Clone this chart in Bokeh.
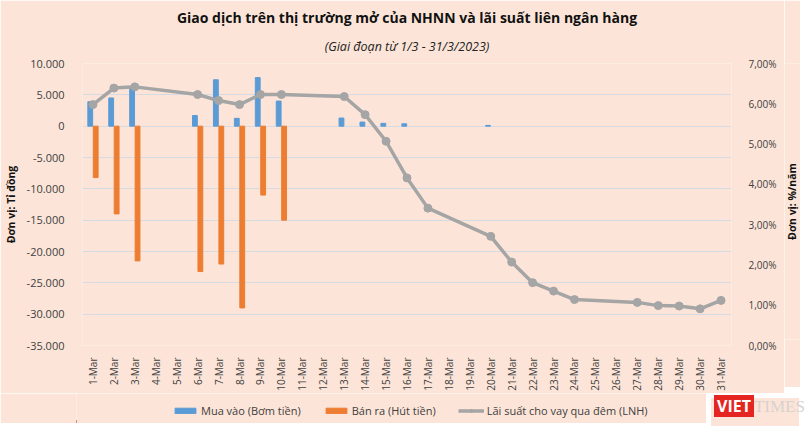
from bokeh.plotting import figure
from bokeh.layouts import column, row
from bokeh.models import (ColumnDataSource, LinearAxis, Range1d, FixedTicker,
                          CustomJSTickFormatter, Legend, LegendItem, Title, Div, Label)
from bokeh.transform import dodge
from bokeh.embed import file_html
from bokeh.resources import INLINE
from math import pi

# --- data ---
days = ["%d-Mar" % d for d in range(1, 32)]

buy_days = ["1-Mar", "2-Mar", "3-Mar", "6-Mar", "7-Mar", "8-Mar", "9-Mar", "10-Mar",
            "13-Mar", "14-Mar", "15-Mar", "16-Mar", "20-Mar"]
buy_vals = [3900, 4500, 6200, 1700, 7400, 1250, 7750, 4000, 1300, 650, 450, 380, 120]

sell_days = ["1-Mar", "2-Mar", "3-Mar", "6-Mar", "7-Mar", "8-Mar", "9-Mar", "10-Mar"]
sell_vals = [-8200, -14000, -21500, -23200, -22000, -29000, -11000, -15000]

rate_days = ["1-Mar", "2-Mar", "3-Mar", "6-Mar", "7-Mar", "8-Mar", "9-Mar", "10-Mar",
             "13-Mar", "14-Mar", "15-Mar", "16-Mar", "17-Mar", "20-Mar", "21-Mar",
             "22-Mar", "23-Mar", "24-Mar", "27-Mar", "28-Mar", "29-Mar", "30-Mar", "31-Mar"]
rate_vals = [5.98, 6.39, 6.42, 6.23, 6.08, 5.98, 6.23, 6.23, 6.18, 5.73, 5.07, 4.16,
             3.41, 2.71, 2.07, 1.56, 1.35, 1.14, 1.07, 0.99, 0.98, 0.91, 1.12]

left_ticks = [-35000, -30000, -25000, -20000, -15000, -10000, -5000, 0, 5000, 10000]
right_ticks = [0, 1, 2, 3, 4, 5, 6, 7]

BG = "#FCE5D8"
FONT = "Open Sans"
TXT = "#404040"
BLUE, ORANGE, GREY = "#5B9BD5", "#ED7D31", "#A5A5A5"

p = figure(x_range=days, y_range=Range1d(-35000, 10000),
           frame_width=649, frame_height=282,
           output_backend="svg", toolbar_location=None,
           title="Giao dịch trên thị trường mở của NHNN và lãi suất liên ngân hàng",
           min_border_left=76, min_border_right=53, min_border_top=63,
           min_border_bottom=42)
p.extra_y_ranges = {"rate": Range1d(0, 7)}

p.background_fill_color = BG
p.border_fill_color = BG
p.outline_line_color = None

p.title.align = "center"
p.title.text_font = FONT
p.title.text_font_style = "bold"
p.title.text_font_size = "14px"
p.title.text_color = "#111111"
p.title.standoff = 0
if "padding" in p.title.properties():
    p.title.padding = 1
p.add_layout(Title(text="(Giai đoạn từ 1/3 - 31/3/2023)",
                   align="center", text_font=FONT, text_font_style="italic",
                   text_font_size="12.5px", text_color="#222222",
                   standoff=17), "above")

buy_src = ColumnDataSource(dict(d=buy_days, v=buy_vals))
sell_src = ColumnDataSource(dict(d=sell_days, v=sell_vals))
rate_src = ColumnDataSource(dict(d=rate_days, r=rate_vals))

p.vbar(x=dodge("d", -0.13, range=p.x_range), top="v", width=0.23,
       source=buy_src, color=BLUE)
p.vbar(x=dodge("d", 0.13, range=p.x_range), top="v", width=0.23,
       source=sell_src, color=ORANGE)
p.line(x="d", y="r", source=rate_src, y_range_name="rate",
       line_color=GREY, line_width=3.5)
p.scatter(x="d", y="r", source=rate_src, y_range_name="rate",
          size=8, fill_color=GREY, line_color=GREY)

# grid
p.xgrid.visible = False
p.ygrid.ticker = FixedTicker(ticks=left_ticks)
p.ygrid.grid_line_color = "#D6DAE2"
p.ygrid.grid_line_width = 1

# left axis
ya = p.yaxis[0]
ya.ticker = FixedTicker(ticks=left_ticks)
ya.formatter = CustomJSTickFormatter(
    code='return tick.toFixed(0).replace(/\\B(?=(\\d{3})+(?!\\d))/g, ".");')
ya.axis_label = "Đơn vị: Tỉ đồng"
ya.axis_label_standoff = 6
ya.axis_label_text_font = FONT
ya.axis_label_text_font_style = "bold"
ya.axis_label_text_font_size = "10.5px"
ya.axis_label_text_color = "#111111"
ya.major_label_text_font_size = "11px"
ya.major_label_standoff = 12

# right axis (its title sits in the narrow strip to the right)
ra = LinearAxis(y_range_name="rate", ticker=FixedTicker(ticks=right_ticks),
                formatter=CustomJSTickFormatter(
                    code='return tick.toFixed(2).replace(".", ",") + "%";'))
ra.major_label_text_font_size = "10px"
ra.major_label_standoff = 11
p.add_layout(ra, "right")

for ax in (ya, ra):
    ax.axis_line_color = None
    ax.major_tick_line_color = None
    ax.minor_tick_line_color = None
    ax.major_label_text_font = FONT
    ax.major_label_text_color = TXT

xa = p.xaxis[0]
xa.axis_line_color = None
xa.major_tick_line_color = None
xa.minor_tick_line_color = None
xa.major_label_orientation = pi / 2
xa.major_label_text_font = FONT
xa.major_label_text_font_size = "10px"
xa.major_label_text_color = TXT
xa.major_label_standoff = 6

# strip holding the right axis title, read bottom to top
side = figure(width=16, height=387, x_range=(0, 1), y_range=(0, 1),
              output_backend="svg", toolbar_location=None,
              min_border_left=0, min_border_right=0, min_border_top=63,
              min_border_bottom=42, outline_line_color=None)
side.background_fill_color = BG
side.border_fill_color = BG
side.axis.visible = False
side.grid.visible = False
side.add_layout(Label(x=0.45, y=0.5, text="Đơn vị: %/năm", angle=pi / 2,
                      text_align="center", text_baseline="middle", text_font=FONT,
                      text_font_style="bold", text_font_size="10.5px",
                      text_color="#111111"))

# legend strip below the chart
lg = figure(width=706, height=30, x_range=(0, 10), y_range=(0, 10),
            output_backend="svg", toolbar_location=None,
            min_border_left=76, min_border_right=0, min_border_top=0,
            min_border_bottom=0, outline_line_color=None)
lg.background_fill_color = BG
lg.border_fill_color = BG
lg.axis.visible = False
lg.grid.visible = False
# legend keys: one point each, placed outside the visible range
k_buy = lg.vbar(x=[-50], top=[1], width=1, color=BLUE)
k_sell = lg.vbar(x=[-50], top=[1], width=1, color=ORANGE)
k_line = lg.line(x=[-50, -40], y=[1, 1], line_color=GREY, line_width=3.5)
k_dot = lg.scatter(x=[-50], y=[1], size=8, fill_color=GREY, line_color=GREY)

legend = Legend(items=[
    LegendItem(label="Mua vào (Bơm tiền)", renderers=[k_buy]),
    LegendItem(label="Bán ra (Hút tiền)", renderers=[k_sell]),
    LegendItem(label="Lãi suất cho vay qua đêm (LNH)", renderers=[k_line, k_dot]),
], orientation="horizontal", location=(96, 5))
legend.label_text_font = FONT
legend.label_text_font_size = "11px"
legend.label_text_color = TXT
legend.glyph_width = 26
legend.glyph_height = 7
legend.spacing = 22
legend.label_standoff = 3
legend.padding = 0
legend.margin = 0
legend.border_line_color = None
legend.background_fill_alpha = 0
lg.add_layout(legend)

# VietTimes mark
logo = Div(width=88, height=30, text=(
    '<div style="white-space:nowrap;margin-top:-3px;margin-left:3px;">'
    '<span style="background:#E52521;color:#fff;font:bold 16px \'Open Sans\';'
    'padding:0 3px;">VIET</span>'
    '<span style="color:#D8D2CE;font:17px \'Liberation Serif\';">TIMES</span></div>'),
    styles={"background-color": BG})

page = column(row(p, side, spacing=0), row(lg, logo, spacing=0), spacing=0)
open("out.html", "w").write(file_html(page, INLINE))
